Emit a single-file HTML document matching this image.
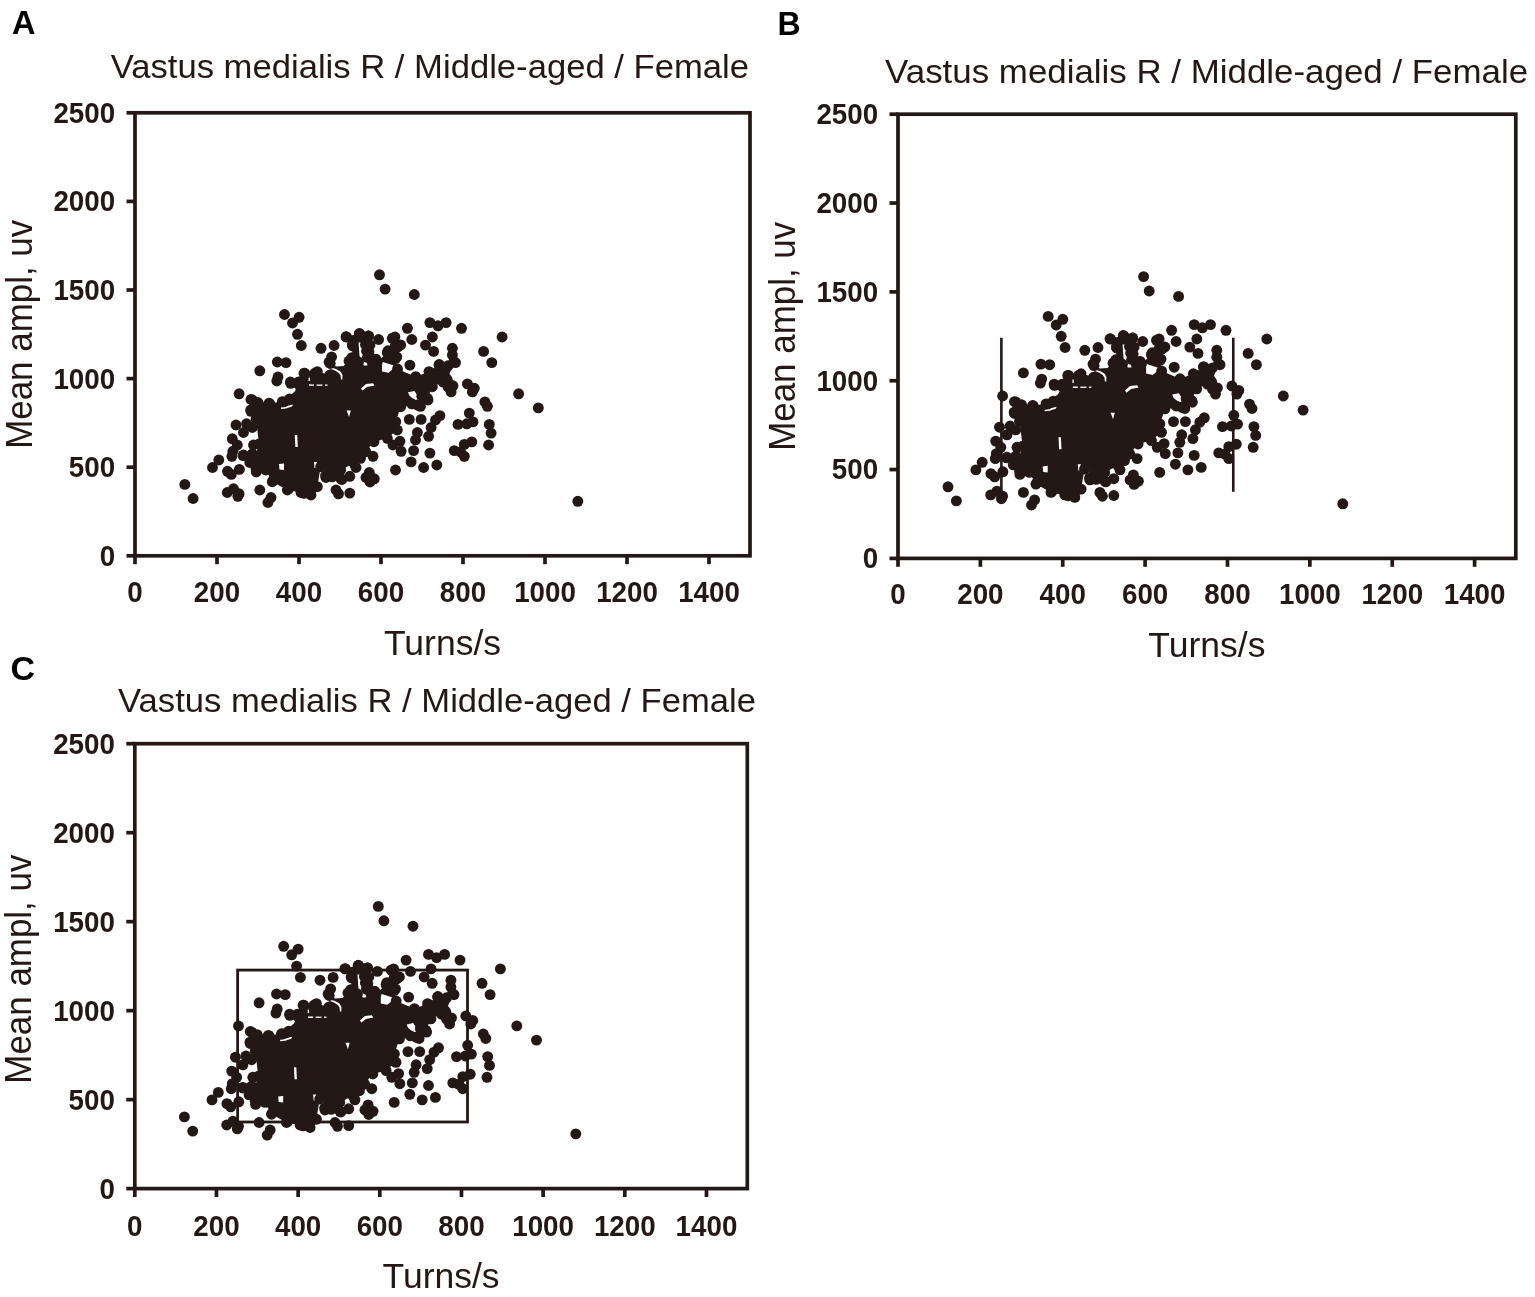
<!DOCTYPE html>
<html><head><meta charset="utf-8"><title>Vastus medialis R</title>
<style>
html,body{margin:0;padding:0;background:#fff;}
svg{display:block;}
.tk{font-family:"Liberation Sans", Arial, Helvetica, sans-serif;font-weight:bold;font-size:30.0px;fill:#231815;}
.lt{font-family:"Liberation Sans", Arial, Helvetica, sans-serif;font-weight:bold;font-size:34px;fill:#000;}
.ti{font-family:"Liberation Sans", Arial, Helvetica, sans-serif;font-size:33.6px;fill:#231815;}
.ax{font-family:"Liberation Sans", Arial, Helvetica, sans-serif;font-size:36px;fill:#231815;}
.ax2{font-family:"Liberation Sans", Arial, Helvetica, sans-serif;font-size:35.3px;fill:#231815;}
</style></head><body>
<svg width="1535" height="1297" viewBox="0 0 1535 1297">
<rect width="1535" height="1297" fill="#fff"/>
<rect x="135.00" y="112.80" width="615.00" height="443.00" fill="none" stroke="#231815" stroke-width="3.7"/>
<line x1="126.50" y1="555.80" x2="135.00" y2="555.80" stroke="#231815" stroke-width="3.7"/>
<text x="115.10" y="565.70" text-anchor="end" class="tk" textLength="15.43" lengthAdjust="spacingAndGlyphs">0</text>
<line x1="126.50" y1="467.20" x2="135.00" y2="467.20" stroke="#231815" stroke-width="3.7"/>
<text x="115.10" y="477.10" text-anchor="end" class="tk" textLength="46.29" lengthAdjust="spacingAndGlyphs">500</text>
<line x1="126.50" y1="378.60" x2="135.00" y2="378.60" stroke="#231815" stroke-width="3.7"/>
<text x="115.10" y="388.50" text-anchor="end" class="tk" textLength="61.72" lengthAdjust="spacingAndGlyphs">1000</text>
<line x1="126.50" y1="290.00" x2="135.00" y2="290.00" stroke="#231815" stroke-width="3.7"/>
<text x="115.10" y="299.90" text-anchor="end" class="tk" textLength="61.72" lengthAdjust="spacingAndGlyphs">1500</text>
<line x1="126.50" y1="201.40" x2="135.00" y2="201.40" stroke="#231815" stroke-width="3.7"/>
<text x="115.10" y="211.30" text-anchor="end" class="tk" textLength="61.72" lengthAdjust="spacingAndGlyphs">2000</text>
<line x1="126.50" y1="112.80" x2="135.00" y2="112.80" stroke="#231815" stroke-width="3.7"/>
<text x="115.10" y="122.70" text-anchor="end" class="tk" textLength="61.72" lengthAdjust="spacingAndGlyphs">2500</text>
<line x1="135.00" y1="555.80" x2="135.00" y2="564.20" stroke="#231815" stroke-width="3.7"/>
<text x="135.00" y="602.30" text-anchor="middle" class="tk" textLength="15.43" lengthAdjust="spacingAndGlyphs">0</text>
<line x1="217.00" y1="555.80" x2="217.00" y2="564.20" stroke="#231815" stroke-width="3.7"/>
<text x="217.00" y="602.30" text-anchor="middle" class="tk" textLength="46.29" lengthAdjust="spacingAndGlyphs">200</text>
<line x1="299.00" y1="555.80" x2="299.00" y2="564.20" stroke="#231815" stroke-width="3.7"/>
<text x="299.00" y="602.30" text-anchor="middle" class="tk" textLength="46.29" lengthAdjust="spacingAndGlyphs">400</text>
<line x1="381.00" y1="555.80" x2="381.00" y2="564.20" stroke="#231815" stroke-width="3.7"/>
<text x="381.00" y="602.30" text-anchor="middle" class="tk" textLength="46.29" lengthAdjust="spacingAndGlyphs">600</text>
<line x1="463.00" y1="555.80" x2="463.00" y2="564.20" stroke="#231815" stroke-width="3.7"/>
<text x="463.00" y="602.30" text-anchor="middle" class="tk" textLength="46.29" lengthAdjust="spacingAndGlyphs">800</text>
<line x1="545.00" y1="555.80" x2="545.00" y2="564.20" stroke="#231815" stroke-width="3.7"/>
<text x="545.00" y="602.30" text-anchor="middle" class="tk" textLength="61.72" lengthAdjust="spacingAndGlyphs">1000</text>
<line x1="627.00" y1="555.80" x2="627.00" y2="564.20" stroke="#231815" stroke-width="3.7"/>
<text x="627.00" y="602.30" text-anchor="middle" class="tk" textLength="61.72" lengthAdjust="spacingAndGlyphs">1200</text>
<line x1="709.00" y1="555.80" x2="709.00" y2="564.20" stroke="#231815" stroke-width="3.7"/>
<text x="709.00" y="602.30" text-anchor="middle" class="tk" textLength="61.72" lengthAdjust="spacingAndGlyphs">1400</text>
<text x="12.10" y="34.30" class="lt" textLength="23.5" lengthAdjust="spacingAndGlyphs">A</text>
<text x="110.70" y="78.30" class="ti" textLength="638.3" lengthAdjust="spacingAndGlyphs">Vastus medialis R / Middle-aged / Female</text>
<text x="442.50" y="654.60" text-anchor="middle" class="ax2" textLength="117.1" lengthAdjust="spacingAndGlyphs">Turns/s</text>
<text transform="translate(31.90,334.30) rotate(-90)" x="0" y="0" text-anchor="middle" class="ax" textLength="229" lengthAdjust="spacingAndGlyphs">Mean ampl, uv</text>
<g fill="#231815"><polygon points="259.0,444.0 256.0,419.0 250.7,410.0 252.3,400.0 269.0,403.3 282.3,401.7 289.0,396.5 296.5,390.0 290.7,383.3 304.0,373.3 317.3,371.7 330.7,375.0 330.2,363.5 336.0,366.5 343.5,366.0 351.8,357.7 352.7,346.0 346.0,336.8 359.3,333.5 368.5,336.0 365.5,344.5 366.5,351.0 367.5,357.3 376.0,359.3 377.3,361.7 387.3,352.7 392.3,338.3 400.7,345.0 395.7,358.3 397.5,369.0 415.7,376.7 429.0,371.7 439.0,365.0 454.0,361.7 447.3,380.0 432.3,386.7 427.3,398.3 417.3,405.0 400.7,406.7 395.7,421.7 397.3,430.0 387.3,438.3 374.0,441.7 365.7,451.7 354.0,463.3 340.7,470.0 320.7,466.7 317.3,486.7 304.0,493.3 287.3,490.0 272.3,481.7 265.7,470.0 256.3,472.0 253.0,462.5"/></g><g fill="#fff"><polygon points="331.0,367.5 336.0,369.0 340.5,371.5 342.5,375.0 342.3,379.5 341.0,379.5 340.5,375.5 338.8,373.0 335.0,370.5 331.0,369.0"/><polygon points="309.0,384.3 314.0,384.4 314.0,385.8 309.0,385.8"/><polygon points="316.5,384.5 322.5,384.5 322.5,385.8 316.5,385.8"/><polygon points="325.0,384.5 327.5,384.5 327.5,385.8 325.0,385.8"/><polygon points="308.5,377.5 309.8,377.5 310.0,381.0 308.7,381.0"/><polygon points="281.0,407.5 287.0,406.0 293.0,404.5 292.0,406.5 286.0,408.5 281.0,409.0"/><polygon points="346.5,410.5 350.8,410.5 349.0,417.0 348.0,414.0"/><polygon points="382.0,361.7 396.3,366.3 388.5,372.8 382.0,371.5"/><polygon points="408.0,392.3 414.5,391.0 419.1,398.2 415.8,401.5 409.3,395.6"/><polygon points="358.6,342.5 361.5,342.5 367.5,365.5 363.8,365.5 359.5,356.0"/><polygon points="361.0,388.5 366.0,384.0 373.0,383.2 374.5,385.5 367.0,387.0 362.5,390.5"/><polygon points="294.8,435.0 297.2,435.0 297.8,447.0 295.4,447.0"/><polygon points="279.0,464.0 284.0,463.5 284.0,470.0 279.5,469.5"/><polygon points="314.0,462.0 317.0,462.0 317.3,468.0 314.5,468.0"/></g>
<g fill="#231815"><circle cx="284.5" cy="314.5" r="5.45"/><circle cx="299.1" cy="317.3" r="5.45"/><circle cx="292.5" cy="323.0" r="5.45"/><circle cx="297.5" cy="334.3" r="5.45"/><circle cx="301.3" cy="345.5" r="5.45"/><circle cx="321.0" cy="348.3" r="5.45"/><circle cx="334.1" cy="345.5" r="5.45"/><circle cx="346.6" cy="337.0" r="5.45"/><circle cx="352.3" cy="345.1" r="5.45"/><circle cx="359.8" cy="333.9" r="5.45"/><circle cx="277.3" cy="362.0" r="5.45"/><circle cx="286.0" cy="362.6" r="5.45"/><circle cx="259.8" cy="370.8" r="5.45"/><circle cx="278.0" cy="377.0" r="5.45"/><circle cx="276.8" cy="381.0" r="5.45"/><circle cx="290.4" cy="382.0" r="5.45"/><circle cx="331.6" cy="357.0" r="5.45"/><circle cx="329.1" cy="362.0" r="5.45"/><circle cx="351.0" cy="359.5" r="5.45"/><circle cx="358.5" cy="362.0" r="5.45"/><circle cx="304.8" cy="373.3" r="5.45"/><circle cx="314.8" cy="373.3" r="5.45"/><circle cx="329.8" cy="375.1" r="5.45"/><circle cx="298.5" cy="382.0" r="5.45"/><circle cx="379.5" cy="274.8" r="5.45"/><circle cx="385.1" cy="289.1" r="5.45"/><circle cx="414.3" cy="294.5" r="5.45"/><circle cx="429.9" cy="322.6" r="5.45"/><circle cx="438.0" cy="325.8" r="5.45"/><circle cx="446.1" cy="322.6" r="5.45"/><circle cx="407.4" cy="328.3" r="5.45"/><circle cx="461.5" cy="328.3" r="5.45"/><circle cx="502.1" cy="337.0" r="5.45"/><circle cx="368.5" cy="336.0" r="5.45"/><circle cx="378.6" cy="339.5" r="5.45"/><circle cx="394.9" cy="337.0" r="5.45"/><circle cx="411.8" cy="339.5" r="5.45"/><circle cx="432.4" cy="337.0" r="5.45"/><circle cx="425.5" cy="345.1" r="5.45"/><circle cx="433.6" cy="351.4" r="5.45"/><circle cx="452.4" cy="348.3" r="5.45"/><circle cx="452.4" cy="355.1" r="5.45"/><circle cx="483.6" cy="351.4" r="5.45"/><circle cx="491.8" cy="362.6" r="5.45"/><circle cx="388.0" cy="350.8" r="5.45"/><circle cx="398.0" cy="347.0" r="5.45"/><circle cx="396.8" cy="357.0" r="5.45"/><circle cx="375.5" cy="359.5" r="5.45"/><circle cx="409.9" cy="365.1" r="5.45"/><circle cx="455.5" cy="362.6" r="5.45"/><circle cx="439.3" cy="364.5" r="5.45"/><circle cx="448.0" cy="365.8" r="5.45"/><circle cx="431.8" cy="373.3" r="5.45"/><circle cx="446.1" cy="378.3" r="5.45"/><circle cx="467.4" cy="383.9" r="5.45"/><circle cx="474.3" cy="388.3" r="5.45"/><circle cx="453.0" cy="385.8" r="5.45"/><circle cx="239.1" cy="393.8" r="5.45"/><circle cx="251.0" cy="399.4" r="5.45"/><circle cx="257.9" cy="402.5" r="5.45"/><circle cx="269.8" cy="403.8" r="5.45"/><circle cx="283.5" cy="401.9" r="5.45"/><circle cx="251.0" cy="411.3" r="5.45"/><circle cx="236.0" cy="425.0" r="5.45"/><circle cx="246.6" cy="423.8" r="5.45"/><circle cx="243.5" cy="432.5" r="5.45"/><circle cx="232.3" cy="438.8" r="5.45"/><circle cx="237.3" cy="445.0" r="5.45"/><circle cx="232.9" cy="451.3" r="5.45"/><circle cx="243.5" cy="455.0" r="5.45"/><circle cx="253.5" cy="445.0" r="5.45"/><circle cx="218.8" cy="460.0" r="5.45"/><circle cx="212.5" cy="467.5" r="5.45"/><circle cx="227.5" cy="471.3" r="5.45"/><circle cx="239.4" cy="469.4" r="5.45"/><circle cx="231.3" cy="474.4" r="5.45"/><circle cx="231.9" cy="456.3" r="5.45"/><circle cx="243.1" cy="455.6" r="5.45"/><circle cx="184.8" cy="484.4" r="5.45"/><circle cx="193.1" cy="498.5" r="5.45"/><circle cx="227.3" cy="492.5" r="5.45"/><circle cx="233.5" cy="488.8" r="5.45"/><circle cx="239.1" cy="493.8" r="5.45"/><circle cx="237.9" cy="496.3" r="5.45"/><circle cx="259.8" cy="490.0" r="5.45"/><circle cx="271.0" cy="497.5" r="5.45"/><circle cx="267.9" cy="502.5" r="5.45"/><circle cx="256.0" cy="468.8" r="5.45"/><circle cx="273.5" cy="480.0" r="5.45"/><circle cx="288.5" cy="488.8" r="5.45"/><circle cx="301.0" cy="492.5" r="5.45"/><circle cx="311.0" cy="495.0" r="5.45"/><circle cx="313.5" cy="487.5" r="5.45"/><circle cx="336.0" cy="490.0" r="5.45"/><circle cx="338.5" cy="493.8" r="5.45"/><circle cx="349.8" cy="493.1" r="5.45"/><circle cx="356.0" cy="467.5" r="5.45"/><circle cx="349.8" cy="476.3" r="5.45"/><circle cx="341.0" cy="478.8" r="5.45"/><circle cx="326.0" cy="477.5" r="5.45"/><circle cx="366.0" cy="477.5" r="5.45"/><circle cx="451.1" cy="391.9" r="5.45"/><circle cx="472.4" cy="391.9" r="5.45"/><circle cx="518.6" cy="393.8" r="5.45"/><circle cx="538.3" cy="407.9" r="5.45"/><circle cx="484.9" cy="401.9" r="5.45"/><circle cx="487.4" cy="406.3" r="5.45"/><circle cx="469.3" cy="413.1" r="5.45"/><circle cx="458.0" cy="424.4" r="5.45"/><circle cx="466.8" cy="423.8" r="5.45"/><circle cx="473.0" cy="421.9" r="5.45"/><circle cx="489.3" cy="424.4" r="5.45"/><circle cx="491.1" cy="433.1" r="5.45"/><circle cx="488.6" cy="445.0" r="5.45"/><circle cx="471.8" cy="441.9" r="5.45"/><circle cx="464.3" cy="444.4" r="5.45"/><circle cx="454.3" cy="450.6" r="5.45"/><circle cx="460.5" cy="451.9" r="5.45"/><circle cx="464.3" cy="456.3" r="5.45"/><circle cx="439.9" cy="415.6" r="5.45"/><circle cx="435.5" cy="420.0" r="5.45"/><circle cx="431.1" cy="427.5" r="5.45"/><circle cx="428.6" cy="436.3" r="5.45"/><circle cx="409.3" cy="419.4" r="5.45"/><circle cx="421.1" cy="419.4" r="5.45"/><circle cx="417.4" cy="432.5" r="5.45"/><circle cx="415.5" cy="440.0" r="5.45"/><circle cx="413.6" cy="450.6" r="5.45"/><circle cx="429.9" cy="453.1" r="5.45"/><circle cx="411.1" cy="461.9" r="5.45"/><circle cx="423.6" cy="467.5" r="5.45"/><circle cx="436.8" cy="465.0" r="5.45"/><circle cx="395.5" cy="470.0" r="5.45"/><circle cx="373.0" cy="456.3" r="5.45"/><circle cx="374.3" cy="478.8" r="5.45"/><circle cx="369.3" cy="472.5" r="5.45"/><circle cx="370.0" cy="482.0" r="5.45"/><circle cx="399.9" cy="441.3" r="5.45"/><circle cx="401.1" cy="451.3" r="5.45"/><circle cx="393.0" cy="445.0" r="5.45"/><circle cx="421.8" cy="396.3" r="5.45"/><circle cx="428.0" cy="400.0" r="5.45"/><circle cx="420.5" cy="406.3" r="5.45"/><circle cx="411.8" cy="403.8" r="5.45"/><circle cx="370.0" cy="345.0" r="5.45"/><circle cx="369.0" cy="352.0" r="5.45"/><circle cx="443.0" cy="382.0" r="5.45"/><circle cx="448.0" cy="387.0" r="5.45"/><circle cx="252.3" cy="427.5" r="5.45"/><circle cx="252.3" cy="453.8" r="5.45"/><circle cx="249.8" cy="462.5" r="5.45"/><circle cx="329.8" cy="471.3" r="5.45"/><circle cx="336.0" cy="470.0" r="5.45"/><circle cx="325.6" cy="475.6" r="5.45"/><circle cx="332.1" cy="476.9" r="5.45"/><circle cx="341.9" cy="479.5" r="5.45"/><circle cx="349.0" cy="361.0" r="5.45"/><circle cx="360.5" cy="458.3" r="5.45"/><circle cx="300.0" cy="393.0" r="5.45"/><circle cx="289.5" cy="399.0" r="5.45"/><circle cx="577.8" cy="501.3" r="5.45"/><circle cx="259.0" cy="444.0" r="5.45"/><circle cx="256.0" cy="419.0" r="5.45"/><circle cx="250.7" cy="410.0" r="5.45"/><circle cx="252.3" cy="400.0" r="5.45"/><circle cx="269.0" cy="403.3" r="5.45"/><circle cx="282.3" cy="401.7" r="5.45"/><circle cx="290.7" cy="383.3" r="5.45"/><circle cx="304.0" cy="373.3" r="5.45"/><circle cx="317.3" cy="371.7" r="5.45"/><circle cx="330.7" cy="375.0" r="5.45"/><circle cx="330.2" cy="363.5" r="5.45"/><circle cx="351.8" cy="357.7" r="5.45"/><circle cx="352.7" cy="346.0" r="5.45"/><circle cx="346.0" cy="336.8" r="5.45"/><circle cx="359.3" cy="333.5" r="5.45"/><circle cx="368.5" cy="336.0" r="5.45"/><circle cx="365.5" cy="344.5" r="5.45"/><circle cx="366.5" cy="351.0" r="5.45"/><circle cx="367.5" cy="357.3" r="5.45"/><circle cx="376.0" cy="359.3" r="5.45"/><circle cx="377.3" cy="361.7" r="5.45"/><circle cx="387.3" cy="352.7" r="5.45"/><circle cx="392.3" cy="338.3" r="5.45"/><circle cx="400.7" cy="345.0" r="5.45"/><circle cx="395.7" cy="358.3" r="5.45"/><circle cx="397.5" cy="369.0" r="5.45"/><circle cx="415.7" cy="376.7" r="5.45"/><circle cx="429.0" cy="371.7" r="5.45"/><circle cx="439.0" cy="365.0" r="5.45"/><circle cx="454.0" cy="361.7" r="5.45"/><circle cx="447.3" cy="380.0" r="5.45"/><circle cx="432.3" cy="386.7" r="5.45"/><circle cx="427.3" cy="398.3" r="5.45"/><circle cx="417.3" cy="405.0" r="5.45"/><circle cx="400.7" cy="406.7" r="5.45"/><circle cx="395.7" cy="421.7" r="5.45"/><circle cx="397.3" cy="430.0" r="5.45"/><circle cx="387.3" cy="438.3" r="5.45"/><circle cx="374.0" cy="441.7" r="5.45"/><circle cx="365.7" cy="451.7" r="5.45"/><circle cx="354.0" cy="463.3" r="5.45"/><circle cx="340.7" cy="470.0" r="5.45"/><circle cx="320.7" cy="466.7" r="5.45"/><circle cx="317.3" cy="486.7" r="5.45"/><circle cx="304.0" cy="493.3" r="5.45"/><circle cx="287.3" cy="490.0" r="5.45"/><circle cx="272.3" cy="481.7" r="5.45"/><circle cx="265.7" cy="470.0" r="5.45"/><circle cx="256.3" cy="472.0" r="5.45"/><circle cx="253.0" cy="462.5" r="5.45"/></g>
<rect x="898.00" y="114.20" width="617.80" height="444.20" fill="none" stroke="#231815" stroke-width="3.7"/>
<line x1="889.50" y1="558.40" x2="898.00" y2="558.40" stroke="#231815" stroke-width="3.7"/>
<text x="878.10" y="568.30" text-anchor="end" class="tk" textLength="15.43" lengthAdjust="spacingAndGlyphs">0</text>
<line x1="889.50" y1="469.56" x2="898.00" y2="469.56" stroke="#231815" stroke-width="3.7"/>
<text x="878.10" y="479.46" text-anchor="end" class="tk" textLength="46.29" lengthAdjust="spacingAndGlyphs">500</text>
<line x1="889.50" y1="380.72" x2="898.00" y2="380.72" stroke="#231815" stroke-width="3.7"/>
<text x="878.10" y="390.62" text-anchor="end" class="tk" textLength="61.72" lengthAdjust="spacingAndGlyphs">1000</text>
<line x1="889.50" y1="291.88" x2="898.00" y2="291.88" stroke="#231815" stroke-width="3.7"/>
<text x="878.10" y="301.78" text-anchor="end" class="tk" textLength="61.72" lengthAdjust="spacingAndGlyphs">1500</text>
<line x1="889.50" y1="203.04" x2="898.00" y2="203.04" stroke="#231815" stroke-width="3.7"/>
<text x="878.10" y="212.94" text-anchor="end" class="tk" textLength="61.72" lengthAdjust="spacingAndGlyphs">2000</text>
<line x1="889.50" y1="114.20" x2="898.00" y2="114.20" stroke="#231815" stroke-width="3.7"/>
<text x="878.10" y="124.10" text-anchor="end" class="tk" textLength="61.72" lengthAdjust="spacingAndGlyphs">2500</text>
<line x1="898.00" y1="558.40" x2="898.00" y2="566.80" stroke="#231815" stroke-width="3.7"/>
<text x="898.00" y="604.30" text-anchor="middle" class="tk" textLength="15.43" lengthAdjust="spacingAndGlyphs">0</text>
<line x1="980.37" y1="558.40" x2="980.37" y2="566.80" stroke="#231815" stroke-width="3.7"/>
<text x="980.37" y="604.30" text-anchor="middle" class="tk" textLength="46.29" lengthAdjust="spacingAndGlyphs">200</text>
<line x1="1062.75" y1="558.40" x2="1062.75" y2="566.80" stroke="#231815" stroke-width="3.7"/>
<text x="1062.75" y="604.30" text-anchor="middle" class="tk" textLength="46.29" lengthAdjust="spacingAndGlyphs">400</text>
<line x1="1145.12" y1="558.40" x2="1145.12" y2="566.80" stroke="#231815" stroke-width="3.7"/>
<text x="1145.12" y="604.30" text-anchor="middle" class="tk" textLength="46.29" lengthAdjust="spacingAndGlyphs">600</text>
<line x1="1227.49" y1="558.40" x2="1227.49" y2="566.80" stroke="#231815" stroke-width="3.7"/>
<text x="1227.49" y="604.30" text-anchor="middle" class="tk" textLength="46.29" lengthAdjust="spacingAndGlyphs">800</text>
<line x1="1309.87" y1="558.40" x2="1309.87" y2="566.80" stroke="#231815" stroke-width="3.7"/>
<text x="1309.87" y="604.30" text-anchor="middle" class="tk" textLength="61.72" lengthAdjust="spacingAndGlyphs">1000</text>
<line x1="1392.24" y1="558.40" x2="1392.24" y2="566.80" stroke="#231815" stroke-width="3.7"/>
<text x="1392.24" y="604.30" text-anchor="middle" class="tk" textLength="61.72" lengthAdjust="spacingAndGlyphs">1200</text>
<line x1="1474.61" y1="558.40" x2="1474.61" y2="566.80" stroke="#231815" stroke-width="3.7"/>
<text x="1474.61" y="604.30" text-anchor="middle" class="tk" textLength="61.72" lengthAdjust="spacingAndGlyphs">1400</text>
<text x="777.50" y="35.00" class="lt" textLength="23.2" lengthAdjust="spacingAndGlyphs">B</text>
<text x="885.10" y="83.10" class="ti" textLength="643.0" lengthAdjust="spacingAndGlyphs">Vastus medialis R / Middle-aged / Female</text>
<text x="1206.90" y="657.10" text-anchor="middle" class="ax2" textLength="117.1" lengthAdjust="spacingAndGlyphs">Turns/s</text>
<text transform="translate(794.80,336.30) rotate(-90)" x="0" y="0" text-anchor="middle" class="ax" textLength="229" lengthAdjust="spacingAndGlyphs">Mean ampl, uv</text>
<g fill="#231815"><polygon points="1022.6,446.3 1019.6,421.2 1014.2,412.2 1015.8,402.2 1032.6,405.5 1046.0,403.9 1052.7,398.7 1060.2,392.2 1054.4,385.4 1067.8,375.4 1081.1,373.8 1094.6,377.1 1094.1,365.6 1099.9,368.6 1107.4,368.1 1115.8,359.8 1116.7,348.0 1110.0,338.8 1123.3,335.5 1132.6,338.0 1129.5,346.5 1130.6,353.0 1131.6,359.4 1140.1,361.4 1141.4,363.8 1151.4,354.7 1156.5,340.3 1164.9,347.0 1159.9,360.4 1161.7,371.1 1180.0,378.8 1193.3,373.8 1203.4,367.1 1218.5,363.8 1211.7,382.1 1196.7,388.8 1191.6,400.5 1181.6,407.2 1164.9,408.9 1159.9,423.9 1161.5,432.3 1151.4,440.6 1138.1,444.0 1129.8,454.0 1118.0,465.6 1104.6,472.4 1084.5,469.1 1081.1,489.1 1067.8,495.7 1051.0,492.4 1035.9,484.1 1029.3,472.4 1019.9,474.4 1016.5,464.8"/></g><g fill="#fff"><polygon points="1094.9,369.6 1099.9,371.1 1104.4,373.6 1106.4,377.1 1106.2,381.6 1104.9,381.6 1104.4,377.6 1102.7,375.1 1098.9,372.6 1094.9,371.1"/><polygon points="1072.8,386.4 1077.8,386.5 1077.8,387.9 1072.8,387.9"/><polygon points="1080.3,386.6 1086.4,386.6 1086.4,387.9 1080.3,387.9"/><polygon points="1088.9,386.6 1091.4,386.6 1091.4,387.9 1088.9,387.9"/><polygon points="1072.3,379.6 1073.6,379.6 1073.8,383.1 1072.5,383.1"/><polygon points="1044.7,409.7 1050.7,408.2 1056.7,406.7 1055.7,408.7 1049.7,410.7 1044.7,411.2"/><polygon points="1110.5,412.7 1114.8,412.7 1113.0,419.2 1112.0,416.2"/><polygon points="1146.1,363.8 1160.5,368.4 1152.7,374.9 1146.1,373.6"/><polygon points="1172.2,394.5 1178.8,393.2 1183.4,400.4 1180.1,403.7 1173.5,397.8"/><polygon points="1122.6,344.5 1125.5,344.5 1131.6,367.6 1127.8,367.6 1123.5,358.1"/><polygon points="1125.0,390.6 1130.1,386.1 1137.1,385.3 1138.6,387.6 1131.1,389.1 1126.5,392.7"/><polygon points="1058.5,437.3 1060.9,437.3 1061.5,449.3 1059.1,449.3"/><polygon points="1042.7,466.4 1047.7,465.8 1047.7,472.4 1043.2,471.9"/><polygon points="1077.8,464.3 1080.8,464.3 1081.1,470.4 1078.3,470.4"/></g>
<g fill="#231815"><circle cx="1048.2" cy="316.4" r="5.45"/><circle cx="1062.8" cy="319.3" r="5.45"/><circle cx="1056.2" cy="325.0" r="5.45"/><circle cx="1061.2" cy="336.3" r="5.45"/><circle cx="1065.1" cy="347.5" r="5.45"/><circle cx="1084.8" cy="350.3" r="5.45"/><circle cx="1098.0" cy="347.5" r="5.45"/><circle cx="1110.6" cy="339.0" r="5.45"/><circle cx="1116.3" cy="347.1" r="5.45"/><circle cx="1123.8" cy="335.9" r="5.45"/><circle cx="1040.9" cy="364.1" r="5.45"/><circle cx="1049.7" cy="364.7" r="5.45"/><circle cx="1023.4" cy="372.9" r="5.45"/><circle cx="1041.7" cy="379.1" r="5.45"/><circle cx="1040.4" cy="383.1" r="5.45"/><circle cx="1054.1" cy="384.1" r="5.45"/><circle cx="1095.5" cy="359.1" r="5.45"/><circle cx="1093.0" cy="364.1" r="5.45"/><circle cx="1115.0" cy="361.6" r="5.45"/><circle cx="1122.5" cy="364.1" r="5.45"/><circle cx="1068.6" cy="375.4" r="5.45"/><circle cx="1078.6" cy="375.4" r="5.45"/><circle cx="1093.7" cy="377.2" r="5.45"/><circle cx="1062.2" cy="384.1" r="5.45"/><circle cx="1143.6" cy="276.6" r="5.45"/><circle cx="1149.2" cy="291.0" r="5.45"/><circle cx="1178.6" cy="296.4" r="5.45"/><circle cx="1194.2" cy="324.6" r="5.45"/><circle cx="1202.4" cy="327.8" r="5.45"/><circle cx="1210.5" cy="324.6" r="5.45"/><circle cx="1171.6" cy="330.3" r="5.45"/><circle cx="1226.0" cy="330.3" r="5.45"/><circle cx="1266.8" cy="339.0" r="5.45"/><circle cx="1132.6" cy="338.0" r="5.45"/><circle cx="1142.7" cy="341.5" r="5.45"/><circle cx="1159.1" cy="339.0" r="5.45"/><circle cx="1176.1" cy="341.5" r="5.45"/><circle cx="1196.8" cy="339.0" r="5.45"/><circle cx="1189.8" cy="347.1" r="5.45"/><circle cx="1198.0" cy="353.4" r="5.45"/><circle cx="1216.8" cy="350.3" r="5.45"/><circle cx="1216.8" cy="357.2" r="5.45"/><circle cx="1248.2" cy="353.4" r="5.45"/><circle cx="1256.4" cy="364.7" r="5.45"/><circle cx="1152.2" cy="352.8" r="5.45"/><circle cx="1162.2" cy="349.0" r="5.45"/><circle cx="1161.0" cy="359.1" r="5.45"/><circle cx="1139.6" cy="361.6" r="5.45"/><circle cx="1174.2" cy="367.2" r="5.45"/><circle cx="1220.0" cy="364.7" r="5.45"/><circle cx="1203.7" cy="366.6" r="5.45"/><circle cx="1212.4" cy="367.9" r="5.45"/><circle cx="1196.2" cy="375.4" r="5.45"/><circle cx="1210.5" cy="380.4" r="5.45"/><circle cx="1231.9" cy="386.0" r="5.45"/><circle cx="1238.8" cy="390.4" r="5.45"/><circle cx="1217.4" cy="387.9" r="5.45"/><circle cx="1002.6" cy="396.0" r="5.45"/><circle cx="1014.5" cy="401.6" r="5.45"/><circle cx="1021.5" cy="404.7" r="5.45"/><circle cx="1033.4" cy="406.0" r="5.45"/><circle cx="1047.2" cy="404.1" r="5.45"/><circle cx="1014.5" cy="413.5" r="5.45"/><circle cx="999.5" cy="427.2" r="5.45"/><circle cx="1010.1" cy="426.0" r="5.45"/><circle cx="1007.0" cy="434.8" r="5.45"/><circle cx="995.7" cy="441.1" r="5.45"/><circle cx="1000.8" cy="447.3" r="5.45"/><circle cx="996.3" cy="453.6" r="5.45"/><circle cx="1007.0" cy="457.3" r="5.45"/><circle cx="1017.0" cy="447.3" r="5.45"/><circle cx="982.2" cy="462.3" r="5.45"/><circle cx="975.9" cy="469.9" r="5.45"/><circle cx="990.9" cy="473.7" r="5.45"/><circle cx="1002.9" cy="471.8" r="5.45"/><circle cx="994.7" cy="476.8" r="5.45"/><circle cx="995.3" cy="458.6" r="5.45"/><circle cx="1006.6" cy="457.9" r="5.45"/><circle cx="948.0" cy="486.8" r="5.45"/><circle cx="956.4" cy="500.9" r="5.45"/><circle cx="990.7" cy="494.9" r="5.45"/><circle cx="996.9" cy="491.2" r="5.45"/><circle cx="1002.6" cy="496.2" r="5.45"/><circle cx="1001.4" cy="498.7" r="5.45"/><circle cx="1023.4" cy="492.4" r="5.45"/><circle cx="1034.6" cy="499.9" r="5.45"/><circle cx="1031.5" cy="505.0" r="5.45"/><circle cx="1019.6" cy="471.2" r="5.45"/><circle cx="1037.1" cy="482.4" r="5.45"/><circle cx="1052.2" cy="491.2" r="5.45"/><circle cx="1064.8" cy="494.9" r="5.45"/><circle cx="1074.8" cy="497.4" r="5.45"/><circle cx="1077.3" cy="489.9" r="5.45"/><circle cx="1099.9" cy="492.4" r="5.45"/><circle cx="1102.4" cy="496.2" r="5.45"/><circle cx="1113.8" cy="495.5" r="5.45"/><circle cx="1120.0" cy="469.9" r="5.45"/><circle cx="1113.8" cy="478.7" r="5.45"/><circle cx="1104.9" cy="481.2" r="5.45"/><circle cx="1089.9" cy="479.9" r="5.45"/><circle cx="1130.1" cy="479.9" r="5.45"/><circle cx="1215.5" cy="394.1" r="5.45"/><circle cx="1236.9" cy="394.1" r="5.45"/><circle cx="1283.3" cy="396.0" r="5.45"/><circle cx="1303.1" cy="410.1" r="5.45"/><circle cx="1249.5" cy="404.1" r="5.45"/><circle cx="1252.0" cy="408.5" r="5.45"/><circle cx="1233.8" cy="415.3" r="5.45"/><circle cx="1222.5" cy="426.6" r="5.45"/><circle cx="1231.3" cy="426.0" r="5.45"/><circle cx="1237.5" cy="424.1" r="5.45"/><circle cx="1253.9" cy="426.6" r="5.45"/><circle cx="1255.7" cy="435.4" r="5.45"/><circle cx="1253.2" cy="447.3" r="5.45"/><circle cx="1236.3" cy="444.2" r="5.45"/><circle cx="1228.8" cy="446.7" r="5.45"/><circle cx="1218.8" cy="452.9" r="5.45"/><circle cx="1225.0" cy="454.2" r="5.45"/><circle cx="1228.8" cy="458.6" r="5.45"/><circle cx="1204.3" cy="417.8" r="5.45"/><circle cx="1199.9" cy="422.2" r="5.45"/><circle cx="1195.4" cy="429.8" r="5.45"/><circle cx="1192.9" cy="438.6" r="5.45"/><circle cx="1173.5" cy="421.6" r="5.45"/><circle cx="1185.4" cy="421.6" r="5.45"/><circle cx="1181.7" cy="434.8" r="5.45"/><circle cx="1179.8" cy="442.3" r="5.45"/><circle cx="1177.9" cy="452.9" r="5.45"/><circle cx="1194.2" cy="455.4" r="5.45"/><circle cx="1175.4" cy="464.2" r="5.45"/><circle cx="1187.9" cy="469.9" r="5.45"/><circle cx="1201.2" cy="467.4" r="5.45"/><circle cx="1159.7" cy="472.4" r="5.45"/><circle cx="1137.1" cy="458.6" r="5.45"/><circle cx="1138.4" cy="481.2" r="5.45"/><circle cx="1133.4" cy="474.9" r="5.45"/><circle cx="1134.1" cy="484.4" r="5.45"/><circle cx="1164.1" cy="443.6" r="5.45"/><circle cx="1165.3" cy="453.6" r="5.45"/><circle cx="1157.2" cy="447.3" r="5.45"/><circle cx="1186.1" cy="398.5" r="5.45"/><circle cx="1192.3" cy="402.2" r="5.45"/><circle cx="1184.8" cy="408.5" r="5.45"/><circle cx="1176.1" cy="406.0" r="5.45"/><circle cx="1134.1" cy="347.0" r="5.45"/><circle cx="1133.1" cy="354.0" r="5.45"/><circle cx="1207.4" cy="384.1" r="5.45"/><circle cx="1212.4" cy="389.1" r="5.45"/><circle cx="1015.8" cy="429.8" r="5.45"/><circle cx="1015.8" cy="456.1" r="5.45"/><circle cx="1013.3" cy="464.8" r="5.45"/><circle cx="1093.7" cy="473.7" r="5.45"/><circle cx="1099.9" cy="472.4" r="5.45"/><circle cx="1089.5" cy="478.0" r="5.45"/><circle cx="1096.0" cy="479.3" r="5.45"/><circle cx="1105.8" cy="481.9" r="5.45"/><circle cx="1113.0" cy="363.1" r="5.45"/><circle cx="1124.5" cy="460.6" r="5.45"/><circle cx="1063.8" cy="395.2" r="5.45"/><circle cx="1053.2" cy="401.2" r="5.45"/><circle cx="1342.8" cy="503.8" r="5.45"/><circle cx="1022.6" cy="446.3" r="5.45"/><circle cx="1019.6" cy="421.2" r="5.45"/><circle cx="1014.2" cy="412.2" r="5.45"/><circle cx="1015.8" cy="402.2" r="5.45"/><circle cx="1032.6" cy="405.5" r="5.45"/><circle cx="1046.0" cy="403.9" r="5.45"/><circle cx="1054.4" cy="385.4" r="5.45"/><circle cx="1067.8" cy="375.4" r="5.45"/><circle cx="1081.1" cy="373.8" r="5.45"/><circle cx="1094.6" cy="377.1" r="5.45"/><circle cx="1094.1" cy="365.6" r="5.45"/><circle cx="1115.8" cy="359.8" r="5.45"/><circle cx="1116.7" cy="348.0" r="5.45"/><circle cx="1110.0" cy="338.8" r="5.45"/><circle cx="1123.3" cy="335.5" r="5.45"/><circle cx="1132.6" cy="338.0" r="5.45"/><circle cx="1129.5" cy="346.5" r="5.45"/><circle cx="1130.6" cy="353.0" r="5.45"/><circle cx="1131.6" cy="359.4" r="5.45"/><circle cx="1140.1" cy="361.4" r="5.45"/><circle cx="1141.4" cy="363.8" r="5.45"/><circle cx="1151.4" cy="354.7" r="5.45"/><circle cx="1156.5" cy="340.3" r="5.45"/><circle cx="1164.9" cy="347.0" r="5.45"/><circle cx="1159.9" cy="360.4" r="5.45"/><circle cx="1161.7" cy="371.1" r="5.45"/><circle cx="1180.0" cy="378.8" r="5.45"/><circle cx="1193.3" cy="373.8" r="5.45"/><circle cx="1203.4" cy="367.1" r="5.45"/><circle cx="1218.5" cy="363.8" r="5.45"/><circle cx="1211.7" cy="382.1" r="5.45"/><circle cx="1196.7" cy="388.8" r="5.45"/><circle cx="1191.6" cy="400.5" r="5.45"/><circle cx="1181.6" cy="407.2" r="5.45"/><circle cx="1164.9" cy="408.9" r="5.45"/><circle cx="1159.9" cy="423.9" r="5.45"/><circle cx="1161.5" cy="432.3" r="5.45"/><circle cx="1151.4" cy="440.6" r="5.45"/><circle cx="1138.1" cy="444.0" r="5.45"/><circle cx="1129.8" cy="454.0" r="5.45"/><circle cx="1118.0" cy="465.6" r="5.45"/><circle cx="1104.6" cy="472.4" r="5.45"/><circle cx="1084.5" cy="469.1" r="5.45"/><circle cx="1081.1" cy="489.1" r="5.45"/><circle cx="1067.8" cy="495.7" r="5.45"/><circle cx="1051.0" cy="492.4" r="5.45"/><circle cx="1035.9" cy="484.1" r="5.45"/><circle cx="1029.3" cy="472.4" r="5.45"/><circle cx="1019.9" cy="474.4" r="5.45"/><circle cx="1016.5" cy="464.8" r="5.45"/></g>
<line x1="1001.38" y1="337.72" x2="1001.38" y2="491.77" stroke="#231815" stroke-width="2.6"/>
<line x1="1233.26" y1="337.72" x2="1233.26" y2="491.77" stroke="#231815" stroke-width="2.6"/>
<rect x="134.80" y="743.70" width="612.50" height="444.90" fill="none" stroke="#231815" stroke-width="3.7"/>
<line x1="126.30" y1="1188.60" x2="134.80" y2="1188.60" stroke="#231815" stroke-width="3.7"/>
<text x="114.90" y="1198.50" text-anchor="end" class="tk" textLength="15.43" lengthAdjust="spacingAndGlyphs">0</text>
<line x1="126.30" y1="1099.62" x2="134.80" y2="1099.62" stroke="#231815" stroke-width="3.7"/>
<text x="114.90" y="1109.52" text-anchor="end" class="tk" textLength="46.29" lengthAdjust="spacingAndGlyphs">500</text>
<line x1="126.30" y1="1010.64" x2="134.80" y2="1010.64" stroke="#231815" stroke-width="3.7"/>
<text x="114.90" y="1020.54" text-anchor="end" class="tk" textLength="61.72" lengthAdjust="spacingAndGlyphs">1000</text>
<line x1="126.30" y1="921.66" x2="134.80" y2="921.66" stroke="#231815" stroke-width="3.7"/>
<text x="114.90" y="931.56" text-anchor="end" class="tk" textLength="61.72" lengthAdjust="spacingAndGlyphs">1500</text>
<line x1="126.30" y1="832.68" x2="134.80" y2="832.68" stroke="#231815" stroke-width="3.7"/>
<text x="114.90" y="842.58" text-anchor="end" class="tk" textLength="61.72" lengthAdjust="spacingAndGlyphs">2000</text>
<line x1="126.30" y1="743.70" x2="134.80" y2="743.70" stroke="#231815" stroke-width="3.7"/>
<text x="114.90" y="753.60" text-anchor="end" class="tk" textLength="61.72" lengthAdjust="spacingAndGlyphs">2500</text>
<line x1="134.80" y1="1188.60" x2="134.80" y2="1197.00" stroke="#231815" stroke-width="3.7"/>
<text x="134.80" y="1235.60" text-anchor="middle" class="tk" textLength="15.43" lengthAdjust="spacingAndGlyphs">0</text>
<line x1="216.47" y1="1188.60" x2="216.47" y2="1197.00" stroke="#231815" stroke-width="3.7"/>
<text x="216.47" y="1235.60" text-anchor="middle" class="tk" textLength="46.29" lengthAdjust="spacingAndGlyphs">200</text>
<line x1="298.13" y1="1188.60" x2="298.13" y2="1197.00" stroke="#231815" stroke-width="3.7"/>
<text x="298.13" y="1235.60" text-anchor="middle" class="tk" textLength="46.29" lengthAdjust="spacingAndGlyphs">400</text>
<line x1="379.80" y1="1188.60" x2="379.80" y2="1197.00" stroke="#231815" stroke-width="3.7"/>
<text x="379.80" y="1235.60" text-anchor="middle" class="tk" textLength="46.29" lengthAdjust="spacingAndGlyphs">600</text>
<line x1="461.47" y1="1188.60" x2="461.47" y2="1197.00" stroke="#231815" stroke-width="3.7"/>
<text x="461.47" y="1235.60" text-anchor="middle" class="tk" textLength="46.29" lengthAdjust="spacingAndGlyphs">800</text>
<line x1="543.13" y1="1188.60" x2="543.13" y2="1197.00" stroke="#231815" stroke-width="3.7"/>
<text x="543.13" y="1235.60" text-anchor="middle" class="tk" textLength="61.72" lengthAdjust="spacingAndGlyphs">1000</text>
<line x1="624.80" y1="1188.60" x2="624.80" y2="1197.00" stroke="#231815" stroke-width="3.7"/>
<text x="624.80" y="1235.60" text-anchor="middle" class="tk" textLength="61.72" lengthAdjust="spacingAndGlyphs">1200</text>
<line x1="706.47" y1="1188.60" x2="706.47" y2="1197.00" stroke="#231815" stroke-width="3.7"/>
<text x="706.47" y="1235.60" text-anchor="middle" class="tk" textLength="61.72" lengthAdjust="spacingAndGlyphs">1400</text>
<text x="10.40" y="680.10" class="lt" textLength="24.56" lengthAdjust="spacingAndGlyphs">C</text>
<text x="118.10" y="711.70" class="ti" textLength="637.9" lengthAdjust="spacingAndGlyphs">Vastus medialis R / Middle-aged / Female</text>
<text x="441.05" y="1287.60" text-anchor="middle" class="ax2" textLength="117.1" lengthAdjust="spacingAndGlyphs">Turns/s</text>
<text transform="translate(31.40,969.15) rotate(-90)" x="0" y="0" text-anchor="middle" class="ax" textLength="229" lengthAdjust="spacingAndGlyphs">Mean ampl, uv</text>
<g fill="#231815"><polygon points="258.3,1076.3 255.3,1051.2 250.0,1042.2 251.6,1032.1 268.3,1035.4 281.5,1033.8 288.2,1028.6 295.6,1022.1 289.9,1015.4 303.1,1005.3 316.4,1003.7 329.7,1007.0 329.2,995.5 335.0,998.5 342.5,998.0 350.7,989.7 351.6,977.9 344.9,968.7 358.2,965.3 367.4,967.9 364.4,976.4 365.4,982.9 366.4,989.2 374.8,991.3 376.1,993.7 386.1,984.6 391.1,970.2 399.4,976.9 394.4,990.3 396.2,1001.0 414.4,1008.7 427.6,1003.7 437.6,997.0 452.5,993.7 445.8,1012.0 430.9,1018.8 425.9,1030.4 416.0,1037.2 399.4,1038.9 394.4,1053.9 396.0,1062.3 386.1,1070.6 372.8,1074.0 364.6,1084.1 352.9,1095.7 339.7,1102.4 319.7,1099.1 316.4,1119.2 303.1,1125.8 286.5,1122.5 271.5,1114.2 265.0,1102.4 255.6,1104.4 252.3,1094.9"/></g><g fill="#fff"><polygon points="330.0,999.5 335.0,1001.0 339.5,1003.5 341.5,1007.0 341.3,1011.5 340.0,1011.5 339.5,1007.5 337.8,1005.0 334.0,1002.5 330.0,1001.0"/><polygon points="308.1,1016.4 313.1,1016.5 313.1,1017.9 308.1,1017.9"/><polygon points="315.6,1016.6 321.5,1016.6 321.5,1017.9 315.6,1017.9"/><polygon points="324.0,1016.6 326.5,1016.6 326.5,1017.9 324.0,1017.9"/><polygon points="307.6,1009.5 308.9,1009.5 309.1,1013.1 307.8,1013.1"/><polygon points="280.2,1039.7 286.2,1038.2 292.2,1036.7 291.2,1038.7 285.2,1040.7 280.2,1041.2"/><polygon points="345.4,1042.7 349.7,1042.7 347.9,1049.2 346.9,1046.2"/><polygon points="380.8,993.7 395.0,998.3 387.3,1004.8 380.8,1003.5"/><polygon points="406.7,1024.4 413.2,1023.1 417.7,1030.3 414.5,1033.6 408.0,1027.7"/><polygon points="357.5,974.4 360.4,974.4 366.4,997.5 362.7,997.5 358.4,987.9"/><polygon points="359.9,1020.6 364.9,1016.1 371.8,1015.3 373.3,1017.6 365.9,1019.1 361.4,1022.6"/><polygon points="294.0,1067.3 296.3,1067.3 296.9,1079.3 294.5,1079.3"/><polygon points="278.2,1096.4 283.2,1095.9 283.2,1102.4 278.7,1101.9"/><polygon points="313.1,1094.4 316.1,1094.4 316.4,1100.4 313.6,1100.4"/></g>
<g fill="#231815"><circle cx="283.7" cy="946.3" r="5.45"/><circle cx="298.2" cy="949.1" r="5.45"/><circle cx="291.7" cy="954.8" r="5.45"/><circle cx="296.6" cy="966.1" r="5.45"/><circle cx="300.4" cy="977.4" r="5.45"/><circle cx="320.0" cy="980.2" r="5.45"/><circle cx="333.1" cy="977.4" r="5.45"/><circle cx="345.5" cy="968.9" r="5.45"/><circle cx="351.2" cy="977.0" r="5.45"/><circle cx="358.7" cy="965.7" r="5.45"/><circle cx="276.5" cy="994.0" r="5.45"/><circle cx="285.2" cy="994.6" r="5.45"/><circle cx="259.1" cy="1002.8" r="5.45"/><circle cx="277.2" cy="1009.0" r="5.45"/><circle cx="276.0" cy="1013.1" r="5.45"/><circle cx="289.6" cy="1014.1" r="5.45"/><circle cx="330.6" cy="988.9" r="5.45"/><circle cx="328.1" cy="994.0" r="5.45"/><circle cx="349.9" cy="991.5" r="5.45"/><circle cx="357.4" cy="994.0" r="5.45"/><circle cx="303.9" cy="1005.3" r="5.45"/><circle cx="313.9" cy="1005.3" r="5.45"/><circle cx="328.8" cy="1007.1" r="5.45"/><circle cx="297.6" cy="1014.1" r="5.45"/><circle cx="378.3" cy="906.4" r="5.45"/><circle cx="383.9" cy="920.8" r="5.45"/><circle cx="413.0" cy="926.2" r="5.45"/><circle cx="428.5" cy="954.4" r="5.45"/><circle cx="436.6" cy="957.6" r="5.45"/><circle cx="444.6" cy="954.4" r="5.45"/><circle cx="406.1" cy="960.1" r="5.45"/><circle cx="460.0" cy="960.1" r="5.45"/><circle cx="500.4" cy="968.9" r="5.45"/><circle cx="367.4" cy="967.9" r="5.45"/><circle cx="377.4" cy="971.4" r="5.45"/><circle cx="393.6" cy="968.9" r="5.45"/><circle cx="410.5" cy="971.4" r="5.45"/><circle cx="431.0" cy="968.9" r="5.45"/><circle cx="424.1" cy="977.0" r="5.45"/><circle cx="432.2" cy="983.3" r="5.45"/><circle cx="450.9" cy="980.2" r="5.45"/><circle cx="450.9" cy="987.0" r="5.45"/><circle cx="482.0" cy="983.3" r="5.45"/><circle cx="490.1" cy="994.6" r="5.45"/><circle cx="386.8" cy="982.7" r="5.45"/><circle cx="396.7" cy="978.9" r="5.45"/><circle cx="395.5" cy="988.9" r="5.45"/><circle cx="374.3" cy="991.5" r="5.45"/><circle cx="408.6" cy="997.1" r="5.45"/><circle cx="454.0" cy="994.6" r="5.45"/><circle cx="437.9" cy="996.5" r="5.45"/><circle cx="446.5" cy="997.8" r="5.45"/><circle cx="430.4" cy="1005.3" r="5.45"/><circle cx="444.6" cy="1010.3" r="5.45"/><circle cx="465.8" cy="1016.0" r="5.45"/><circle cx="472.7" cy="1020.4" r="5.45"/><circle cx="451.5" cy="1017.9" r="5.45"/><circle cx="238.5" cy="1025.9" r="5.45"/><circle cx="250.3" cy="1031.5" r="5.45"/><circle cx="257.2" cy="1034.6" r="5.45"/><circle cx="269.1" cy="1035.9" r="5.45"/><circle cx="282.7" cy="1034.0" r="5.45"/><circle cx="250.3" cy="1043.5" r="5.45"/><circle cx="235.4" cy="1057.2" r="5.45"/><circle cx="245.9" cy="1056.0" r="5.45"/><circle cx="242.9" cy="1064.8" r="5.45"/><circle cx="231.7" cy="1071.1" r="5.45"/><circle cx="236.7" cy="1077.3" r="5.45"/><circle cx="232.3" cy="1083.7" r="5.45"/><circle cx="242.9" cy="1087.4" r="5.45"/><circle cx="252.8" cy="1077.3" r="5.45"/><circle cx="218.3" cy="1092.4" r="5.45"/><circle cx="212.0" cy="1099.9" r="5.45"/><circle cx="226.9" cy="1103.7" r="5.45"/><circle cx="238.8" cy="1101.8" r="5.45"/><circle cx="230.7" cy="1106.9" r="5.45"/><circle cx="231.3" cy="1088.7" r="5.45"/><circle cx="242.5" cy="1088.0" r="5.45"/><circle cx="184.4" cy="1116.9" r="5.45"/><circle cx="192.7" cy="1131.1" r="5.45"/><circle cx="226.7" cy="1125.0" r="5.45"/><circle cx="232.9" cy="1121.3" r="5.45"/><circle cx="238.5" cy="1126.3" r="5.45"/><circle cx="237.3" cy="1128.8" r="5.45"/><circle cx="259.1" cy="1122.5" r="5.45"/><circle cx="270.2" cy="1130.0" r="5.45"/><circle cx="267.2" cy="1135.1" r="5.45"/><circle cx="255.3" cy="1101.2" r="5.45"/><circle cx="272.7" cy="1112.5" r="5.45"/><circle cx="287.7" cy="1121.3" r="5.45"/><circle cx="300.1" cy="1125.0" r="5.45"/><circle cx="310.1" cy="1127.5" r="5.45"/><circle cx="312.6" cy="1120.0" r="5.45"/><circle cx="335.0" cy="1122.5" r="5.45"/><circle cx="337.5" cy="1126.3" r="5.45"/><circle cx="348.7" cy="1125.6" r="5.45"/><circle cx="354.9" cy="1099.9" r="5.45"/><circle cx="348.7" cy="1108.8" r="5.45"/><circle cx="340.0" cy="1111.3" r="5.45"/><circle cx="325.0" cy="1110.0" r="5.45"/><circle cx="364.9" cy="1110.0" r="5.45"/><circle cx="449.6" cy="1024.0" r="5.45"/><circle cx="470.8" cy="1024.0" r="5.45"/><circle cx="516.8" cy="1025.9" r="5.45"/><circle cx="536.5" cy="1040.1" r="5.45"/><circle cx="483.3" cy="1034.0" r="5.45"/><circle cx="485.8" cy="1038.5" r="5.45"/><circle cx="467.7" cy="1045.3" r="5.45"/><circle cx="456.5" cy="1056.6" r="5.45"/><circle cx="465.3" cy="1056.0" r="5.45"/><circle cx="471.4" cy="1054.1" r="5.45"/><circle cx="487.7" cy="1056.6" r="5.45"/><circle cx="489.5" cy="1065.4" r="5.45"/><circle cx="487.0" cy="1077.3" r="5.45"/><circle cx="470.2" cy="1074.2" r="5.45"/><circle cx="462.8" cy="1076.7" r="5.45"/><circle cx="452.8" cy="1082.9" r="5.45"/><circle cx="459.0" cy="1084.3" r="5.45"/><circle cx="462.8" cy="1088.7" r="5.45"/><circle cx="438.5" cy="1047.8" r="5.45"/><circle cx="434.1" cy="1052.2" r="5.45"/><circle cx="429.7" cy="1059.7" r="5.45"/><circle cx="427.2" cy="1068.6" r="5.45"/><circle cx="408.0" cy="1051.6" r="5.45"/><circle cx="419.7" cy="1051.6" r="5.45"/><circle cx="416.1" cy="1064.8" r="5.45"/><circle cx="414.2" cy="1072.3" r="5.45"/><circle cx="412.3" cy="1082.9" r="5.45"/><circle cx="428.5" cy="1085.5" r="5.45"/><circle cx="409.8" cy="1094.3" r="5.45"/><circle cx="422.2" cy="1099.9" r="5.45"/><circle cx="435.4" cy="1097.4" r="5.45"/><circle cx="394.2" cy="1102.4" r="5.45"/><circle cx="371.8" cy="1088.7" r="5.45"/><circle cx="373.1" cy="1111.3" r="5.45"/><circle cx="368.1" cy="1104.9" r="5.45"/><circle cx="368.8" cy="1114.5" r="5.45"/><circle cx="398.6" cy="1073.6" r="5.45"/><circle cx="399.8" cy="1083.7" r="5.45"/><circle cx="391.8" cy="1077.3" r="5.45"/><circle cx="420.4" cy="1028.4" r="5.45"/><circle cx="426.6" cy="1032.1" r="5.45"/><circle cx="419.1" cy="1038.5" r="5.45"/><circle cx="410.5" cy="1035.9" r="5.45"/><circle cx="368.8" cy="976.9" r="5.45"/><circle cx="367.8" cy="983.9" r="5.45"/><circle cx="441.5" cy="1014.1" r="5.45"/><circle cx="446.5" cy="1019.1" r="5.45"/><circle cx="251.6" cy="1059.7" r="5.45"/><circle cx="251.6" cy="1086.2" r="5.45"/><circle cx="249.1" cy="1094.9" r="5.45"/><circle cx="328.8" cy="1103.7" r="5.45"/><circle cx="335.0" cy="1102.4" r="5.45"/><circle cx="324.6" cy="1108.1" r="5.45"/><circle cx="331.1" cy="1109.4" r="5.45"/><circle cx="340.9" cy="1112.0" r="5.45"/><circle cx="347.9" cy="993.0" r="5.45"/><circle cx="359.4" cy="1090.7" r="5.45"/><circle cx="299.1" cy="1025.1" r="5.45"/><circle cx="288.7" cy="1031.1" r="5.45"/><circle cx="575.8" cy="1133.9" r="5.45"/><circle cx="258.3" cy="1076.3" r="5.45"/><circle cx="255.3" cy="1051.2" r="5.45"/><circle cx="250.0" cy="1042.2" r="5.45"/><circle cx="251.6" cy="1032.1" r="5.45"/><circle cx="268.3" cy="1035.4" r="5.45"/><circle cx="281.5" cy="1033.8" r="5.45"/><circle cx="289.9" cy="1015.4" r="5.45"/><circle cx="303.1" cy="1005.3" r="5.45"/><circle cx="316.4" cy="1003.7" r="5.45"/><circle cx="329.7" cy="1007.0" r="5.45"/><circle cx="329.2" cy="995.5" r="5.45"/><circle cx="350.7" cy="989.7" r="5.45"/><circle cx="351.6" cy="977.9" r="5.45"/><circle cx="344.9" cy="968.7" r="5.45"/><circle cx="358.2" cy="965.3" r="5.45"/><circle cx="367.4" cy="967.9" r="5.45"/><circle cx="364.4" cy="976.4" r="5.45"/><circle cx="365.4" cy="982.9" r="5.45"/><circle cx="366.4" cy="989.2" r="5.45"/><circle cx="374.8" cy="991.3" r="5.45"/><circle cx="376.1" cy="993.7" r="5.45"/><circle cx="386.1" cy="984.6" r="5.45"/><circle cx="391.1" cy="970.2" r="5.45"/><circle cx="399.4" cy="976.9" r="5.45"/><circle cx="394.4" cy="990.3" r="5.45"/><circle cx="396.2" cy="1001.0" r="5.45"/><circle cx="414.4" cy="1008.7" r="5.45"/><circle cx="427.6" cy="1003.7" r="5.45"/><circle cx="437.6" cy="997.0" r="5.45"/><circle cx="452.5" cy="993.7" r="5.45"/><circle cx="445.8" cy="1012.0" r="5.45"/><circle cx="430.9" cy="1018.8" r="5.45"/><circle cx="425.9" cy="1030.4" r="5.45"/><circle cx="416.0" cy="1037.2" r="5.45"/><circle cx="399.4" cy="1038.9" r="5.45"/><circle cx="394.4" cy="1053.9" r="5.45"/><circle cx="396.0" cy="1062.3" r="5.45"/><circle cx="386.1" cy="1070.6" r="5.45"/><circle cx="372.8" cy="1074.0" r="5.45"/><circle cx="364.6" cy="1084.1" r="5.45"/><circle cx="352.9" cy="1095.7" r="5.45"/><circle cx="339.7" cy="1102.4" r="5.45"/><circle cx="319.7" cy="1099.1" r="5.45"/><circle cx="316.4" cy="1119.2" r="5.45"/><circle cx="303.1" cy="1125.8" r="5.45"/><circle cx="286.5" cy="1122.5" r="5.45"/><circle cx="271.5" cy="1114.2" r="5.45"/><circle cx="265.0" cy="1102.4" r="5.45"/><circle cx="255.6" cy="1104.4" r="5.45"/><circle cx="252.3" cy="1094.9" r="5.45"/></g>
<rect x="237.62" y="970.07" width="229.89" height="151.92" fill="none" stroke="#231815" stroke-width="2.8"/>
</svg>
</body></html>
